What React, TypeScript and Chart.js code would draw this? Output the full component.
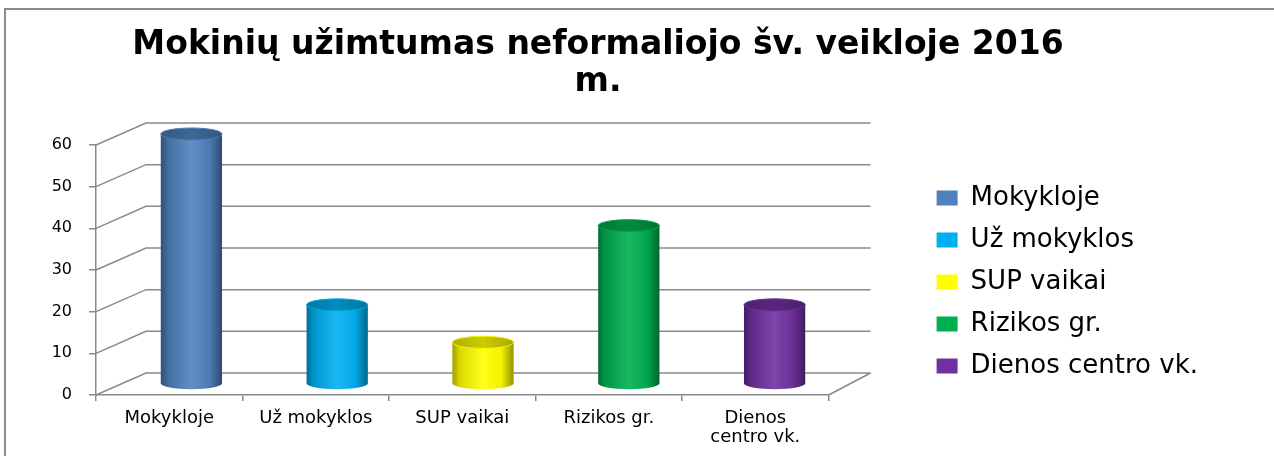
import React, { useEffect, useRef } from 'react';
import { Chart, registerables } from 'chart.js';

Chart.register(...registerables);

// ---- data ----
const categories = ['Mokykloje', 'Už mokyklos', 'SUP vaikai', 'Rizikos gr.', 'Dienos centro vk.'];
const tickLabels: (string | string[])[] = ['Mokykloje', 'Už mokyklos', 'SUP vaikai', 'Rizikos gr.', ['Dienos', 'centro vk.']];
const values = [60, 19, 10, 38, 19];
const colors = ['#4F81BD', '#00B0F0', '#FFFF00', '#00B050', '#7030A0'];
const yTicks = [0, 10, 20, 30, 40, 50, 60];
const titleLines = ['Mokinių užimtumas neformaliojo šv. veikloje 2016', 'm.'];

// ---- style constants ----
const GRID = '#8a8a8a';
const DX_LEFT = 50;
const DX_RIGHT = 42;
const DY = -22;

function hexToRgb(h: string) {
  const n = parseInt(h.slice(1), 16);
  return [(n >> 16) & 255, (n >> 8) & 255, n & 255];
}
function shade(h: string, amt: number) {
  const [r, g, b] = hexToRgb(h);
  const f = (c: number) =>
    Math.round(amt < 0 ? c * (1 + amt) : c + (255 - c) * amt);
  return `rgb(${f(r)},${f(g)},${f(b)})`;
}

const framePlugin = {
  id: 'frame3d',
  beforeDraw(chart: any) {
    const { ctx, width, height } = chart;
    ctx.save();
    ctx.fillStyle = '#fff';
    ctx.fillRect(0, 0, width, height);
    ctx.strokeStyle = '#8c8c8c';
    ctx.lineWidth = 2;
    ctx.beginPath();
    ctx.moveTo(5, height);
    ctx.lineTo(5, 9);
    ctx.lineTo(width, 9);
    ctx.stroke();
    ctx.restore();
  },
  beforeDatasetsDraw(chart: any) {
    const { ctx, chartArea } = chart;
    const y = chart.scales.y;
    const l = chartArea.left;
    const r = chartArea.right;
    ctx.save();
    ctx.strokeStyle = GRID;
    ctx.lineWidth = 1.5;
    ctx.beginPath();
    for (const v of yTicks) {
      const py = y.getPixelForValue(v);
      ctx.moveTo(l, py);
      ctx.lineTo(l + DX_LEFT, py + DY);
      ctx.lineTo(r + DX_RIGHT, py + DY);
    }
    const p0 = y.getPixelForValue(0);
    ctx.moveTo(r, p0);
    ctx.lineTo(r + DX_RIGHT, p0 + DY);
    ctx.stroke();
    ctx.restore();
  },
  beforeDatasetDraw(chart: any, args: any) {
    const { ctx, chartArea } = chart;
    const meta = chart.getDatasetMeta(args.index);
    const l = chartArea.left;
    const r = chartArea.right;
    meta.data.forEach((el: any, i: number) => {
      const { x, y, base, width } = el.getProps(['x', 'y', 'base', 'width'], true);
      const t = (x - l) / (r - l);
      const dx = (DX_LEFT + (DX_RIGHT - DX_LEFT) * t) * 0.45;
      const cx = x + dx;
      const top = y + DY / 2;
      const bottom = base + DY / 2;
      const rx = width / 2;
      const ry = 6;
      const color = colors[i];
      const left = cx - rx;
      const right = cx + rx;
      ctx.save();
      const g = ctx.createLinearGradient(left, 0, right, 0);
      g.addColorStop(0, shade(color, -0.38));
      g.addColorStop(0.12, shade(color, -0.15));
      g.addColorStop(0.5, shade(color, 0.1));
      g.addColorStop(0.8, shade(color, -0.05));
      g.addColorStop(1, shade(color, -0.42));
      ctx.beginPath();
      ctx.moveTo(left, top);
      ctx.lineTo(left, bottom);
      ctx.ellipse(cx, bottom, rx, ry, 0, Math.PI, 0, true);
      ctx.lineTo(right, top);
      ctx.closePath();
      ctx.fillStyle = g;
      ctx.fill();
      const g2 = ctx.createLinearGradient(left, 0, right, 0);
      g2.addColorStop(0, shade(color, -0.32));
      g2.addColorStop(0.5, shade(color, -0.2));
      g2.addColorStop(1, shade(color, -0.34));
      ctx.beginPath();
      ctx.ellipse(cx, top, rx, ry, 0, 0, Math.PI * 2);
      ctx.fillStyle = g2;
      ctx.fill();
      ctx.strokeStyle = shade(color, -0.05);
      ctx.lineWidth = 1;
      ctx.stroke();
      ctx.restore();
    });
    return false;
  },
};

export default function App() {
  const ref = useRef<HTMLCanvasElement>(null);
  useEffect(() => {
    Chart.defaults.font.family = "'DejaVu Sans', sans-serif";
    const chart = new Chart(ref.current as HTMLCanvasElement, {
      type: 'bar',
      data: {
        labels: categories,
        datasets: [
          {
            label: 'Mokiniai',
            data: values,
            backgroundColor: colors,
            barPercentage: 0.418,
            categoryPercentage: 1,
          },
        ],
      },
      options: {
        responsive: false,
        animation: false,
        events: [],
        layout: { padding: { left: -12, right: 66, top: 0, bottom: 0 } },
        plugins: {
          tooltip: { enabled: false },
          title: {
            display: true,
            text: titleLines,
            color: '#000',
            font: { family: "'DejaVu Sans', sans-serif", weight: 'bold', size: 33, lineHeight: 1.1 },
            padding: { top: 27.5, bottom: 44.9 },
          },
          legend: {
            display: true,
            position: 'right',
            fullSize: false,
            align: 'end',
            maxWidth: 300,
            onClick: () => {},
            labels: {
              boxWidth: 21,
              boxHeight: 15,
              padding: 16,
              color: '#000',
              font: { size: 26 },
              generateLabels: () =>
                categories.map((c, i) => ({
                  text: c,
                  fillStyle: colors[i],
                  strokeStyle: colors[i],
                  lineWidth: 0,
                  hidden: false,
                  index: i,
                  datasetIndex: 0,
                })),
            },
          },
        },
        scales: {
          x: {
            type: 'category',
            offset: true,
            grid: { offset: true, drawOnChartArea: false, drawTicks: true, tickLength: 6, color: GRID, lineWidth: 1.5 },
            border: { display: true, color: GRID, width: 1.5 },
            ticks: {
              color: '#000',
              font: { size: 18, lineHeight: 1.05 },
              padding: 8,
              maxRotation: 0,
              autoSkip: false,
              callback: (_v: any, i: number) => tickLabels[i],
            },
            afterFit: (s: any) => {
              s.height = 61;
            },
          },
          y: {
            min: 0,
            max: 60,
            ticks: { stepSize: 10, color: '#000', font: { size: 16 }, padding: 17 },
            grid: { drawOnChartArea: false, drawTicks: true, tickLength: 7, color: GRID, lineWidth: 1.5 },
            border: { display: true, color: GRID, width: 1.5 },
            afterBuildTicks: (s: any) => {
              s.ticks = yTicks.map((v) => ({ value: v }));
            },
            afterFit: (s: any) => {
              s.width = 108;
            },
          },
          gap: {
            type: 'linear',
            position: 'right',
            display: true,
            grid: { display: false },
            ticks: { display: false },
            border: { display: false },
            afterFit: (s: any) => {
              s.width = 92;
            },
          },
        },
      },
      plugins: [framePlugin],
    } as any);
    return () => chart.destroy();
  }, []);
  return (
    <div style={{ position: 'absolute', left: 0, top: 0, width: 1274, height: 456, background: '#fff' }}>
      <canvas ref={ref} width={1274} height={456} style={{ display: 'block' }} />
    </div>
  );
}
